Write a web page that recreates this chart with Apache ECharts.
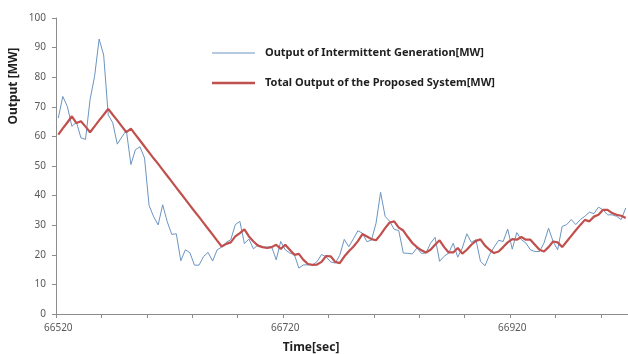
<!DOCTYPE html>
<html>
<head>
<meta charset="utf-8">
<script src="https://cdn.jsdelivr.net/npm/echarts@6/dist/echarts.min.js"></script>
<style>
  html, body { margin: 0; padding: 0; background: #ffffff; }
  #chart { width: 628px; height: 354px; }
</style>
</head>
<body>
<div id="chart"></div>
<script>
// Sampling: one point every 4 seconds starting at t = 66520 s
const startTime = 66520;
const stepSec = 4;

// Output of the intermittent generator [MW]
const intermittentOutput = [
  66.2, 73.5, 70.1, 63.4, 64.8, 59.5, 59.0, 72.4, 80.3, 92.9,
  87.5, 67.3, 64.6, 57.4, 59.8, 62.0, 50.5, 55.5, 56.5, 52.7,
  36.7, 32.9, 30.1, 36.9, 31.2, 26.9, 27.1, 18.0, 21.7, 20.7,
  16.5, 16.5, 19.4, 20.8, 17.9, 21.7, 22.6, 24.2, 25.1, 30.2,
  31.3, 23.8, 25.3, 22.0, 23.4, 22.6, 22.6, 22.8, 18.3, 24.5,
  21.7, 20.6, 20.1, 15.5, 16.6, 16.6, 16.6, 17.7, 20.1, 19.3,
  17.6, 17.2, 19.8, 25.2, 22.7, 25.4, 28.1, 27.3, 24.4, 25.0,
  30.7, 41.1, 33.0, 31.3, 28.6, 28.2, 20.6, 20.5, 20.3, 22.3,
  20.5, 20.6, 23.9, 25.9, 17.8, 19.5, 20.6, 23.9, 19.2, 22.3,
  27.1, 24.2, 25.1, 17.8, 16.3, 20.0, 22.6, 24.9, 24.5, 28.7,
  21.9, 27.5, 25.1, 24.0, 21.7, 21.1, 21.1, 24.0, 29.0, 24.5,
  21.7, 29.6, 30.2, 31.9, 30.2, 31.9, 33.0, 34.4, 33.9, 36.1,
  35.2, 33.5, 33.5, 33.0, 31.9, 35.8
];

// Total output of the proposed system [MW]
const systemOutput = [
  60.6, 62.7, 64.7, 66.8, 64.5, 65.1, 63.3, 61.4, 63.4, 65.4,
  67.3, 69.3, 67.3, 65.4, 63.4, 61.4, 62.6, 60.6, 58.6, 56.6,
  54.6, 52.6, 50.7, 48.7, 46.7, 44.7, 42.7, 40.7, 38.7, 36.7,
  34.7, 32.8, 30.8, 28.8, 26.8, 24.8, 22.8, 23.7, 24.2, 26.2,
  27.3, 28.6, 26.2, 24.5, 23.1, 22.6, 22.3, 22.6, 23.4, 22.0,
  23.4, 21.7, 20.0, 20.3, 18.3, 16.9, 16.6, 16.7, 17.6, 19.6,
  19.5, 17.6, 17.2, 19.4, 21.2, 22.7, 24.6, 27.0, 26.2, 25.3,
  24.9, 26.8, 29.0, 30.9, 31.3, 29.2, 28.2, 26.0, 24.0, 22.6,
  21.5, 20.8, 21.7, 23.4, 24.9, 22.6, 20.8, 20.8, 22.3, 20.4,
  21.7, 23.4, 24.7, 25.2, 23.1, 21.7, 20.6, 21.1, 22.6, 24.2,
  25.3, 25.1, 26.0, 25.1, 25.1, 23.4, 21.7, 21.1, 22.6, 24.5,
  24.2, 22.6, 24.5, 26.4, 28.3, 30.1, 31.8, 31.3, 32.9, 33.5,
  35.2, 35.2, 34.1, 33.5, 33.2, 32.4
];

const seriesNames = [
  'Output of Intermittent Generation[MW]',
  'Total Output of the Proposed System[MW]'
];

const timeLabels = [];
for (let i = 0; i < intermittentOutput.length; i++) {
  timeLabels.push(String(startTime + i * stepSec));
}

const fontFamily = '"Noto Sans", "DejaVu Sans", sans-serif';
const axisGray = '#8c8c8c';
const labelGray = '#595959';
const blue = '#6b95c2';
const red = '#c0504d';

const legendText = {
  fontFamily: fontFamily,
  fontSize: 11,
  fontWeight: 'bold',
  color: '#1f1f1f',
  lineHeight: 14,
  padding: [0, 0, 0, 5]
};

const chart = echarts.init(document.getElementById('chart'), null, { renderer: 'canvas' });

chart.setOption({
  animation: false,
  backgroundColor: '#ffffff',
  grid: { left: 56, right: 0, top: 18, bottom: 40, containLabel: false },
  // one legend per series so each key line keeps its own stroke weight
  legend: [
    {
      left: 207,
      top: 41,
      icon: 'rect',
      itemWidth: 43,
      itemHeight: 1,
      data: [seriesNames[0]],
      itemStyle: { color: blue },
      textStyle: legendText
    },
    {
      left: 207,
      top: 71,
      icon: 'rect',
      itemWidth: 43,
      itemHeight: 2.5,
      data: [seriesNames[1]],
      itemStyle: { color: red },
      textStyle: legendText
    }
  ],
  xAxis: {
    type: 'category',
    data: timeLabels,
    boundaryGap: true,
    axisLine: { lineStyle: { color: axisGray, width: 1 } },
    axisTick: { show: true, interval: 9, length: 4, lineStyle: { color: axisGray } },
    axisLabel: {
      interval: 49,
      margin: 9,
      fontFamily: fontFamily,
      fontSize: 10,
      color: labelGray
    },
    splitLine: { show: false }
  },
  yAxis: {
    type: 'value',
    min: 0,
    max: 100,
    interval: 10,
    axisLine: { show: true, lineStyle: { color: axisGray, width: 1 } },
    axisTick: { show: true, length: 4, lineStyle: { color: axisGray } },
    axisLabel: {
      margin: 10,
      fontFamily: fontFamily,
      fontSize: 10,
      color: labelGray
    },
    splitLine: { show: false }
  },
  graphic: [
    {
      type: 'text',
      x: 14,
      y: 86,
      rotation: Math.PI / 2,
      style: {
        text: 'Output [MW]',
        font: 'bold 12px ' + fontFamily,
        fill: '#1f1f1f',
        textAlign: 'center',
        textVerticalAlign: 'middle'
      }
    },
    {
      type: 'text',
      x: 311,
      y: 348,
      style: {
        text: 'Time[sec]',
        font: 'bold 12px ' + fontFamily,
        fill: '#1f1f1f',
        textAlign: 'center',
        textVerticalAlign: 'middle'
      }
    }
  ],
  series: [
    {
      name: seriesNames[0],
      type: 'line',
      data: intermittentOutput,
      symbol: 'none',
      lineStyle: { color: blue, width: 1 },
      itemStyle: { color: blue }
    },
    {
      name: seriesNames[1],
      type: 'line',
      data: systemOutput,
      symbol: 'none',
      lineStyle: { color: red, width: 2.2 },
      itemStyle: { color: red }
    }
  ]
});
</script>
</body>
</html>
